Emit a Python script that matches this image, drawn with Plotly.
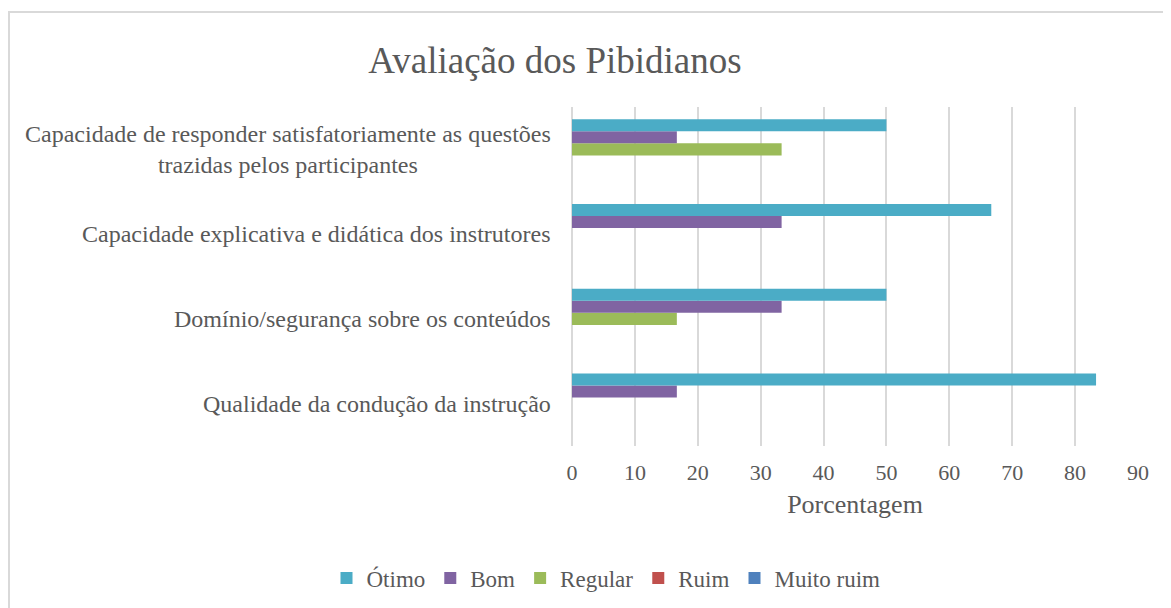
import plotly.graph_objects as go

categories = [
    "Qualidade da condução da instrução",
    "Domínio/segurança sobre os conteúdos",
    "Capacidade explicativa e didática dos instrutores",
    "Capacidade de responder satisfatoriamente as questões<br>trazidas pelos participantes",
]
otimo = [83.33, 50, 66.67, 50]
bom = [16.67, 33.33, 33.33, 16.67]
regular = [0, 16.67, 0, 33.33]
ruim = [0, 0, 0, 0]
muito_ruim = [0, 0, 0, 0]

series = [
    ("Ótimo", otimo, "#4BACC6"),
    ("Bom", bom, "#8064A2"),
    ("Regular", regular, "#9BBB59"),
    ("Ruim", ruim, "#C0504D"),
    ("Muito ruim", muito_ruim, "#4F81BD"),
]
x_ticks = list(range(0, 100, 10))

OFF = 8  # page body margin
W, H = 1171 - OFF, 608 - OFF
ML, MT = 572 - OFF, 107 - OFF
MR = W - (1138 - OFF)
MB = H - (446 - OFF)
FONT = "Liberation Serif"
GRAY = "#595959"

fig = go.Figure()
for name, vals, color in reversed(series):
    fig.add_trace(go.Bar(
        y=categories, x=vals, name=name, orientation="h",
        marker=dict(color=color, line=dict(width=0)),
    ))

pw = W - ML - MR
ph = H - MT - MB
for cat in categories:
    fig.add_annotation(
        x=0, xref="paper", y=cat, yref="y", xanchor="right", xshift=-19,
        text=cat, showarrow=False, align="center",
        font=dict(family=FONT, size=24, color=GRAY),
    )

# outer chart border
fig.add_shape(
    type="rect", xref="paper", yref="paper",
    x0=(1 - ML) / pw, x1=(W + 10 - ML) / pw,
    y0=(H - MB - (H + 10)) / ph, y1=(H - MB - 4) / ph,
    line=dict(color="#d9d9d9", width=2), layer="below",
)

fig.update_layout(
    width=W, height=H,
    margin=dict(l=ML, r=MR, t=MT, b=MB),
    paper_bgcolor="white", plot_bgcolor="white",
    barmode="group", bargap=0.29, bargroupgap=0,
    title=dict(text="Avaliação dos Pibidianos", x=(555 - OFF) / W, xanchor="center",
               y=1 - (60 - OFF) / H, yanchor="middle", xref="container", yref="container",
               font=dict(family=FONT, size=37, color=GRAY)),
    font=dict(family=FONT, color=GRAY),
    xaxis=dict(range=[0, 90], tickvals=x_ticks, showgrid=True,
               gridcolor="#d9d9d9", gridwidth=1.5, zeroline=True,
               zerolinecolor="#d9d9d9", zerolinewidth=1.5, showline=False,
               ticks="", ticklabelstandoff=11,
               tickfont=dict(family=FONT, size=22, color=GRAY),
               title=dict(text="Porcentagem", standoff=10,
                          font=dict(family=FONT, size=26, color=GRAY))),
    yaxis=dict(showticklabels=False, showgrid=False, zeroline=False,
               showline=False, ticks=""),
    legend=dict(orientation="h", x=(606 - OFF) / W, xref="container", xanchor="center",
                y=1 - (578 - OFF) / H, yref="container", yanchor="middle",
                traceorder="reversed",
                font=dict(family=FONT, size=23, color=GRAY),
                itemwidth=30, tracegroupgap=0),
)

fig.write_html("out.html")
